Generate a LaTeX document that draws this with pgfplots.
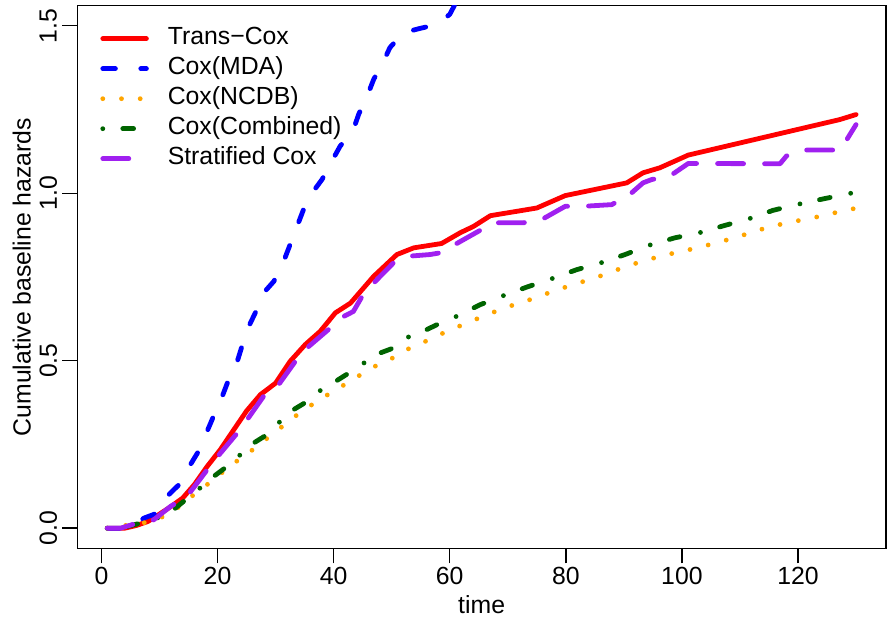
\documentclass[border=0pt]{standalone}
\usepackage{fontspec}
\setmainfont{Liberation Sans}
\usepackage{pgfplots}
\pgfplotsset{compat=1.18}
\definecolor{rpurple}{RGB}{160,32,240}
\definecolor{rorange}{RGB}{255,165,0}
\definecolor{rgreen}{RGB}{0,100,0}
\newcommand\rf{\fontsize{12.4}{14.5}\selectfont}

\begin{document}
\begin{tikzpicture}
\useasboundingbox (-38.65pt,-37.85pt) rectangle (406.85pt,274.15pt);
\begin{axis}[
    scale only axis,
    width=404.35pt, height=271.3pt,
    xmin=-4.16, xmax=135.16,
    ymin=-0.06, ymax=1.56,
    xtick={0,20,...,120},
    ytick={0,0.5,1,1.5},
    tick pos=left,
    tick align=outside,
    major tick length=7.5pt,
    axis line style={line width=0.7pt},
    every tick/.style={black, line width=0.7pt},
    tick label style={font=\rf, /pgf/number format/assume math mode=true},
    xticklabel style={anchor=center, inner sep=0pt},
    xticklabel shift=6.5pt,
    yticklabel style={rotate=90, anchor=center, inner sep=0pt,
        /pgf/number format/.cd, fixed, fixed zerofill, precision=1},
    yticklabel shift=7pt,
    xlabel={time},
    ylabel={Cumulative baseline hazards},
    label style={font=\rf, inner sep=0pt},
    xlabel style={at={([yshift=-28.35pt]axis description cs:0.5,0)}, anchor=center},
    ylabel style={at={([xshift=-27.8pt]axis description cs:0,0.5)}, anchor=center},
    legend image code/.code={\draw[#1] (0pt,0pt) -- (21.8pt,0pt);},
    legend cell align=left,
    legend style={at={([xshift=11.55pt,yshift=-10.5pt]axis description cs:0,1)},
        anchor=north west, draw=none, fill=none, inner sep=0pt, outer sep=0pt,
        font=\rf, row sep=3pt,
        nodes={inner sep=0pt, text height=9pt, text depth=3pt},
        /tikz/every odd column/.append style={column sep=9.5pt}},
]

% Trans-Cox
\addplot[red, line width=2.4pt, line cap=round, line join=round] coordinates {
    (1,0) (4,0) (6,0.008) (8,0.02) (10,0.042) (12,0.065) (14,0.09) (16,0.13)
    (18.2,0.184) (20.5,0.235) (22.8,0.294) (25,0.35) (27.4,0.399) (30,0.433)
    (32.5,0.498) (35.1,0.548) (37.7,0.588) (40.3,0.643) (42.9,0.672) (46.9,0.752)
    (50.9,0.817) (53.8,0.837) (58.6,0.850) (61.8,0.882) (64.1,0.901) (67,0.933)
    (75,0.956) (79.9,0.993) (90.5,1.031) (93.3,1.061) (96.2,1.076) (101.1,1.114)
    (127.2,1.220) (130,1.235)
};
\addlegendentry{Trans−Cox}

% Cox(MDA)
\addplot[blue, line width=2.4pt, line cap=round, line join=round,
    dash pattern=on 6.3pt off 12.7pt] coordinates {
    (1,0) (4,0) (6,0.012) (7.3,0.03) (9.6,0.045) (11.6,0.10) (13.6,0.134)
    (15.3,0.189) (16.7,0.229) (18.2,0.289) (19.3,0.334) (20.8,0.393) (21.9,0.443)
    (23.4,0.498) (24.2,0.543) (25.4,0.603) (26.5,0.643) (27.9,0.702) (29.7,0.737)
    (31.4,0.797) (33.7,0.901) (34.8,0.951) (36.5,1.006) (38,1.041) (39.7,1.096)
    (41.1,1.140) (43.4,1.190) (44.3,1.235) (46,1.300) (46.9,1.340) (48.6,1.394)
    (49.7,1.435) (52,1.479) (54.6,1.491) (57.8,1.504) (60,1.534) (62,1.6)
};
\addlegendentry{Cox(MDA)}

% Cox(NCDB)
\addplot[rorange, line width=2.4pt, line cap=round, line join=round,
    dash pattern=on 0pt off 9.35pt] coordinates {
    (1,0) (4.4,0.009) (7.6,0.017) (10.7,0.035) (13.5,0.065) (15.9,0.10)
    (18.5,0.134) (21,0.169) (23.6,0.204) (26.2,0.236) (28.8,0.272) (31.4,0.307)
    (33.9,0.341) (36.7,0.374) (39.4,0.403) (42.3,0.433) (45,0.462) (47.8,0.490)
    (50.8,0.513) (53.6,0.543) (56.6,0.563) (59.5,0.588) (62.5,0.609) (65.5,0.631)
    (68.6,0.652) (71.7,0.671) (74.7,0.687) (77.7,0.707) (80.9,0.725) (84,0.742)
    (87,0.759) (90.1,0.780) (93.2,0.797) (96.3,0.812) (99.5,0.825) (102.7,0.837)
    (105.9,0.852) (108.9,0.866) (112,0.883) (115.1,0.900) (118.3,0.912)
    (121.4,0.923) (124.7,0.934) (127.9,0.949) (130,0.955)
};
\addlegendentry{Cox(NCDB)}

% Cox(Combined)
\addplot[rgreen, line width=2.4pt, line cap=round, line join=round,
    dash pattern=on 0pt off 10pt on 5.4pt off 10.5pt] coordinates {
    (1,0) (4,0.003) (6.7,0.015) (9.6,0.03) (12.4,0.055) (14.5,0.085) (17,0.12)
    (19.3,0.154) (21.6,0.184) (23.9,0.219) (26.2,0.254) (28.5,0.279) (30.8,0.319)
    (33.1,0.354) (35.4,0.378) (37.7,0.411) (40.3,0.438) (42.6,0.463) (45.2,0.493)
    (48,0.523) (50.3,0.538) (52.9,0.571) (55.8,0.591) (58.1,0.61) (61.1,0.632)
    (65.2,0.667) (69.2,0.694) (73.3,0.720) (77.6,0.745) (81.9,0.772) (86,0.792)
    (90.2,0.817) (94.4,0.845) (98.8,0.867) (103,0.882) (107.4,0.904)
    (111.6,0.924) (115.7,0.949) (120,0.967) (124.3,0.983) (128.8,0.999)
    (130,1.003)
};
\addlegendentry{Cox(Combined)}

% Stratified Cox
\addplot[rpurple, line width=2.4pt, line cap=round, line join=round,
    dash pattern=on 13pt off 10.5pt] coordinates {
    (1,0) (3.3,0) (6.1,0.015) (9,0.025) (11.9,0.065) (14.7,0.094) (18.2,0.174)
    (20.5,0.224) (23.4,0.284) (25.1,0.324) (27.9,0.393) (30.5,0.428) (33.4,0.498)
    (35.4,0.538) (39.1,0.593) (41.7,0.632) (43.4,0.647) (44.9,0.692) (46.9,0.732)
    (50.3,0.792) (52.9,0.812) (56.6,0.817) (58.3,0.822) (60.6,0.844) (64.9,0.886)
    (67.5,0.912) (72.7,0.912) (75.6,0.919) (79.9,0.961) (83,0.961) (87.9,0.966)
    (90.8,0.993) (93.3,1.031) (94.8,1.041) (97.9,1.051) (101.1,1.089)
    (116.9,1.088) (118,1.111) (120.3,1.129) (125.5,1.129) (127.3,1.129)
    (130,1.205)
};
\addlegendentry{Stratified Cox}

\end{axis}
\end{tikzpicture}
\end{document}
